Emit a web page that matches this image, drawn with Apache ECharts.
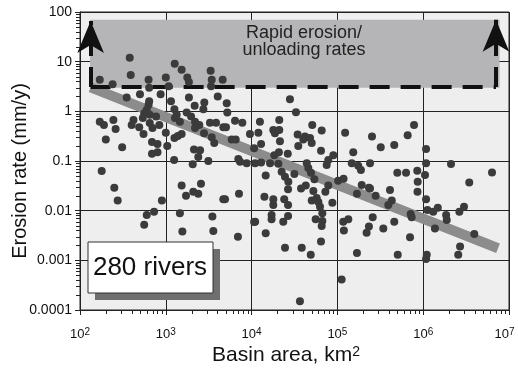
<!DOCTYPE html>
<html>
<head>
<meta charset="utf-8">
<script src="https://cdn.jsdelivr.net/npm/echarts@6/dist/echarts.min.js"></script>
<style>
  html, body { margin: 0; padding: 0; background: #fff; }
  #chart { width: 518px; height: 370px; }
</style>
</head>
<body>
<div id="chart"></div>
<script>
// basin area (km2) and erosion rate (mm/y), one entry per river
const basinArea = [
  380, 390, 170, 240, 350, 500, 630, 640, 870, 1000,
  1080, 1270, 1530, 1780, 1860, 3330, 3430, 3370, 4600, 4030,
  2810, 2740, 2170, 1860, 1150, 1260, 640, 630, 600, 5130,
  28000, 1340, 1750, 1970, 560, 650, 770, 540, 420, 400,
  490, 650, 700, 840, 550, 170, 190, 245, 260, 200,
  310, 690, 800, 690, 800, 1000, 1040, 1260, 1380, 1530,
  1280, 1460, 2190, 2460, 2190, 2790, 3270, 3850, 4680, 3430,
  3670, 2130, 2510, 2390, 1250, 2060, 3130, 5210, 32900, 6410,
  7800, 12500, 21000, 9570, 12000, 17900, 18700, 21000, 21400, 12900,
  10700, 5860, 6530, 5030, 50900, 65600, 34400, 41900, 40000, 48000,
  50200, 35000, 26400, 20800, 18400, 64400, 89600, 78300, 123000, 153000,
  253000, 320000, 460000, 659000, 782000, 1080000, 7000, 7330, 8770, 11000,
  12900, 16400, 43900, 147000, 240000, 1080000, 2110000,
  179, 251, 275, 900, 730, 600, 560, 1530, 2570, 1720,
  2090, 2390, 4680, 1460, 3490, 1560, 3580, 7130, 6930, 11000,
  20500, 14600, 4900, 22400, 24500, 26800, 31500, 26600, 14100, 17900,
  17900, 24000, 26600, 17100, 17100, 26600, 23400, 10700, 14600, 24500,
  38400, 48900, 45800, 49200, 37700, 42800, 53900, 52500, 50200, 57400,
  60000, 62700, 66700, 55800, 66700, 65600, 64400, 75000, 78300, 72400,
  87300, 102000, 118000, 117000, 134000, 119000, 169000, 192000, 233000, 175000,
  188000, 258000, 233000, 219000, 169000, 112000, 36600, 499000, 631000, 853000,
  1050000, 863000, 858000, 6340000, 3440000, 279000, 410000, 430000, 392000, 343000,
  460000, 714000, 734000, 702000, 505000, 1080000, 1120000, 1310000, 1480000, 1850000,
  1880000, 1370000, 2640000, 2990000, 3940000, 2690000, 2560000, 1100000, 1080000, 240000
];
const erosionRate = [
  12, 5.4, 4.3, 3.5, 1.9, 2.2, 4.3, 3.0, 2.2, 4.8,
  3.2, 9.1, 6.9, 4.8, 3.9, 6.6, 4.3, 3.2, 4.3, 2.0,
  1.5, 1.1, 1.3, 1.9, 1.6, 1.1, 1.6, 1.35, 1.07, 1.46,
  1.76, 0.85, 0.95, 0.79, 0.92, 0.85, 0.79, 0.73, 0.67, 0.53,
  0.48, 0.58, 0.46, 0.53, 0.35, 0.62, 0.53, 0.67, 0.44, 0.27,
  0.19, 0.24, 0.22, 0.14, 0.15, 0.37, 0.20, 0.29, 0.32, 0.35,
  0.73, 0.62, 0.62, 0.53, 0.46, 0.36, 0.59, 0.59, 0.48, 0.30,
  0.23, 0.17, 0.165, 0.12, 0.105, 0.086, 0.1, 0.95, 0.96, 0.65,
  0.59, 0.62, 0.67, 0.35, 0.37, 0.42, 0.36, 0.42, 0.25, 0.22,
  0.18, 0.27, 0.27, 0.48, 0.53, 0.41, 0.34, 0.31, 0.27, 0.29,
  0.23, 0.20, 0.14, 0.15, 0.13, 0.16, 0.13, 0.105, 0.37, 0.15,
  0.31, 0.19, 0.21, 0.33, 0.53, 0.175, 0.11, 0.097, 0.09, 0.09,
  0.093, 0.09, 0.09, 0.09, 0.09, 0.09, 0.087,
  0.063, 0.029, 0.016, 0.016, 0.0095, 0.0082, 0.0052, 0.032, 0.035, 0.020,
  0.024, 0.022, 0.017, 0.0089, 0.0076, 0.0038, 0.0039, 0.022, 0.003, 0.006,
  0.088, 0.051, 0.017, 0.061, 0.048, 0.038, 0.055, 0.027, 0.019, 0.017,
  0.013, 0.017, 0.013, 0.0082, 0.0067, 0.0078, 0.006, 0.0059, 0.0035, 0.0018,
  0.0018, 0.0013, 0.072, 0.058, 0.028, 0.032, 0.043, 0.025, 0.016, 0.018,
  0.015, 0.012, 0.0089, 0.0067, 0.0062, 0.0049, 0.0024, 0.083, 0.032, 0.024,
  0.0145, 0.040, 0.044, 0.006, 0.0067, 0.004, 0.022, 0.033, 0.029, 0.080,
  0.066, 0.0074, 0.0048, 0.0036, 0.0014, 0.00041, 0.00015, 0.058, 0.058, 0.064,
  0.052, 0.038, 0.024, 0.059, 0.037, 0.020, 0.026, 0.016, 0.013, 0.0044,
  0.006, 0.0086, 0.0074, 0.0029, 0.0013, 0.017, 0.0103, 0.0095, 0.0115, 0.0082,
  0.0065, 0.0044, 0.0095, 0.012, 0.0034, 0.0019, 0.0013, 0.0013, 0.00106, 0.028
];

// trend band end points
const trendArea = [133, 7.45e6];
const trendRate = [3.05, 0.00175];

// rapid erosion / unloading box
const rapidArea = [131, 7.76e6];
const rapidRate = [2.98, 70];
const thresholdRate = 3.1;
const arrowArea = [133, 7.05e6];
const arrowTopRate = [66, 70];

// axis ticks
const xTickExp = ['2', '3', '4', '5', '6', '7'];
const yTickLabels = ['0.0001', '0.001', '0.01', '0.1', '1', '10', '100'];
const minorSteps = [2, 3, 4, 5, 6, 7, 8, 9];
const xDecades = [100, 1e3, 1e4, 1e5, 1e6];
const yDecades = [1e-4, 1e-3, 1e-2, 0.1, 1, 10];

const FONT = 'Liberation Sans, Arial, sans-serif';

const points = basinArea.map((a, i) => [a, erosionRate[i]]);

const xMinor = [];
xDecades.forEach(d => minorSteps.forEach(m => xMinor.push([m * d, 1e-4])));
const yMinor = [];
yDecades.forEach(d => minorSteps.forEach(m => yMinor.push([100, m * d])));

function tickSeries(data, dir) {
  return {
    type: 'custom',
    silent: true,
    clip: false,
    z: 6,
    data: data,
    renderItem: function (params, api) {
      const p = api.coord([api.value(0), api.value(1)]);
      const len = 4;
      let shape;
      if (dir === 'x') {
        const x = Math.round(p[0]) + 0.5;
        shape = { x1: x, y1: p[1], x2: x, y2: p[1] + len };
      } else {
        const y = Math.round(p[1]) + 0.5;
        shape = { x1: p[0], y1: y, x2: p[0] - len, y2: y };
      }
      return { type: 'line', shape: shape, style: { stroke: '#222', lineWidth: 1 } };
    }
  };
}

const chart = echarts.init(document.getElementById('chart'), null, { renderer: 'canvas' });

const dash = [20, 11];
const arrowSize = [20, 32];

const option = {
  animation: false,
  textStyle: { fontFamily: FONT },
  grid: {
    left: 80, right: 9, top: 12, bottom: 60,
    containLabel: false,
    outerBoundsMode: 'none',
    show: true, backgroundColor: '#eeeeee', borderColor: '#222', borderWidth: 1
  },
  xAxis: {
    type: 'log', logBase: 10, min: 100, max: 1e7,
    name: 'Basin area, km{s|2}',
    nameLocation: 'middle',
    nameGap: 35,
    nameMoveOverlap: false,
    nameTextStyle: {
      fontFamily: FONT, fontSize: 21, color: '#111', padding: [0, 17, 0, 0],
      rich: { s: { fontFamily: FONT, fontSize: 14, verticalAlign: 'top', color: '#111' } }
    },
    axisLine: { lineStyle: { color: '#222', width: 1 } },
    axisTick: { show: true, length: 5, lineStyle: { color: '#222' } },
    splitLine: { show: true, lineStyle: { color: '#222', width: 1 } },
    axisLabel: {
      margin: 17,
      formatter: function (v, i) {
        const pad = i === xTickExp.length - 1 ? '{p|}' : '';
        return '{b|10}{s|' + xTickExp[i] + '}' + pad;
      },
      rich: {
        b: { fontFamily: FONT, fontSize: 13, color: '#111', lineHeight: 15 },
        s: { fontFamily: FONT, fontSize: 10, color: '#111', verticalAlign: 'top', lineHeight: 11 },
        p: { width: 9 }
      }
    }
  },
  yAxis: {
    type: 'log', logBase: 10, min: 1e-4, max: 100,
    name: 'Erosion rate (mm/y)',
    nameLocation: 'middle',
    nameGap: 50,
    nameMoveOverlap: false,
    nameTextStyle: { fontFamily: FONT, fontSize: 20, color: '#111', padding: [0, 20, 0, 0] },
    axisLine: { lineStyle: { color: '#222', width: 1 } },
    axisTick: { show: true, length: 5, lineStyle: { color: '#222' } },
    splitLine: { show: true, lineStyle: { color: '#222', width: 1 } },
    axisLabel: {
      margin: 8,
      fontFamily: FONT, fontSize: 14, color: '#111',
      formatter: function (v, i) { return yTickLabels[i]; }
    }
  },
  series: [
    {
      name: 'rapid',
      type: 'line',
      z: 1,
      silent: true,
      symbol: 'none',
      lineStyle: { opacity: 0 },
      data: [[rapidArea[0], rapidRate[0]], [rapidArea[1], rapidRate[0]]],
      markArea: {
        silent: true,
        itemStyle: { color: '#b5b5b7' },
        label: { show: false },
        data: [[{ coord: [rapidArea[0], rapidRate[1]] }, { coord: [rapidArea[1], rapidRate[0]] }]]
      }
    },
    {
      name: 'trend',
      type: 'line',
      z: 2,
      silent: true,
      symbol: 'none',
      lineStyle: { color: '#8c8c8c', width: 10, cap: 'butt' },
      data: trendArea.map((a, i) => [a, trendRate[i]])
    },
    {
      name: 'threshold',
      type: 'line',
      z: 3,
      silent: true,
      symbol: 'none',
      lineStyle: { opacity: 0 },
      data: [],
      markLine: {
        silent: true,
        animation: false,
        label: { show: false },
        lineStyle: { color: '#111', width: 4, type: dash },
        emphasis: { disabled: true },
        data: [
          [{ coord: [arrowArea[0], thresholdRate], symbol: 'none' },
           { coord: [arrowArea[1], thresholdRate], symbol: 'none' }],
          [{ coord: [arrowArea[0], thresholdRate], symbol: 'none' },
           { coord: [arrowArea[0], arrowTopRate[0]], symbol: 'arrow', symbolSize: arrowSize }],
          [{ coord: [arrowArea[1], thresholdRate], symbol: 'none' },
           { coord: [arrowArea[1], arrowTopRate[1]], symbol: 'arrow', symbolSize: arrowSize }]
        ]
      }
    },
    {
      name: 'rivers',
      type: 'scatter',
      z: 5,
      symbol: 'circle',
      symbolSize: 8,
      itemStyle: { color: '#3b3b3b', opacity: 1 },
      data: points
    },
    tickSeries(xMinor, 'x'),
    tickSeries(yMinor, 'y')
  ],
  graphic: [
    {
      type: 'text',
      x: 304, y: 25,
      style: {
        text: 'Rapid erosion/\nunloading rates',
        fontFamily: FONT, fontSize: 18, lineHeight: 17,
        fill: '#222', align: 'center', verticalAlign: 'top'
      },
      z: 10
    },
    {
      type: 'rect',
      shape: { x: 95, y: 249, width: 125, height: 51 },
      style: { fill: '#6f6f6f' },
      z: 10
    },
    {
      type: 'rect',
      shape: { x: 88, y: 242, width: 125, height: 51 },
      style: { fill: '#ffffff', stroke: '#333', lineWidth: 1 },
      z: 11
    },
    {
      type: 'text',
      x: 150, y: 268,
      style: {
        text: '280 rivers',
        fontFamily: FONT, fontSize: 26, fill: '#111',
        align: 'center', verticalAlign: 'middle'
      },
      z: 12
    }
  ]
};

chart.setOption(option);
</script>
</body>
</html>
